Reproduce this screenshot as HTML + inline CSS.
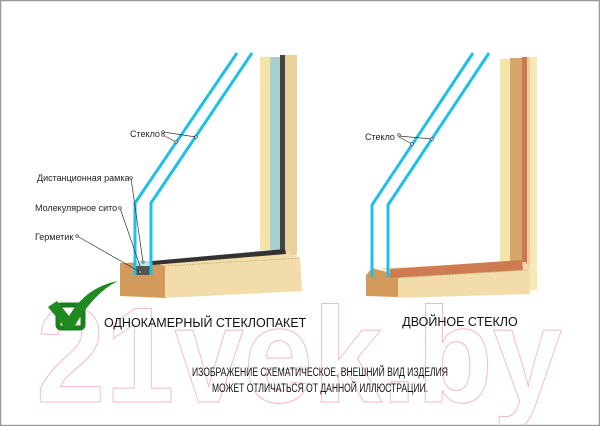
<!DOCTYPE html>
<html><head><meta charset="utf-8"><style>
html,body{margin:0;padding:0;background:#fff}
svg{display:block}
text{font-family:"Liberation Sans",sans-serif}
</style></head><body>
<svg width="600" height="426" viewBox="0 0 600 426" xmlns="http://www.w3.org/2000/svg">
<rect x="0.5" y="0.5" width="599" height="425" fill="#fff" stroke="#999" stroke-width="1.5"/>
<!-- watermark -->
<text x="36" y="402" font-size="136" font-weight="bold" fill="none" stroke="#f7b5ca" stroke-width="1" textLength="526" lengthAdjust="spacingAndGlyphs">21vek.by</text>

<!-- LEFT frame -->
<rect x="260" y="57" width="10" height="193" fill="#f3e4aa"/>
<rect x="270" y="57" width="10" height="193" fill="#a9d0cf"/>
<rect x="280" y="55" width="5" height="195" fill="#444"/>
<rect x="285" y="55" width="12" height="200" fill="#e9d19c"/>
<!-- left sill -->
<polygon points="120,263 152,262 165,266 165,298 120,296" fill="#d49a5c"/>
<polygon points="165,266 150,262 290,253 300,258 302,291 165,298" fill="#f1dcaa"/>
<polygon points="152,261 285,249 286,254 152,265" fill="#333"/>
<line x1="165" y1="266" x2="300" y2="258" stroke="#c9b583" stroke-width="0.8" stroke-dasharray="2,1"/>
<rect x="134" y="261" width="17" height="5" fill="#bfe3ec"/>
<rect x="134" y="266" width="17" height="9" fill="#555"/>
<!-- left glass -->
<polyline points="237,53 135,203 135,275" fill="none" stroke="#1ec0e8" stroke-width="3"/>
<polyline points="252,53 151,203 151,275" fill="none" stroke="#1ec0e8" stroke-width="3"/>
<!-- left labels -->
<text x="130" y="137" font-size="9" fill="#222">Стекло</text>
<g stroke="#333" stroke-width="0.7" fill="#fff">
<line x1="163" y1="132" x2="196" y2="137"/><line x1="163" y1="135" x2="176" y2="142"/>
<circle cx="163" cy="132" r="1.3"/><circle cx="163" cy="135" r="1.3"/>
<circle cx="196" cy="137" r="1.3"/><circle cx="176" cy="142" r="1.3"/>
<line x1="131" y1="178" x2="143" y2="262"/><circle cx="131" cy="178" r="1.3"/><circle cx="143" cy="262" r="1.2"/>
<line x1="120" y1="208" x2="140" y2="266"/><circle cx="120" cy="208" r="1.3"/>
<line x1="77" y1="236" x2="140" y2="272"/><circle cx="77" cy="236" r="1.3"/><circle cx="140" cy="272" r="1.2"/>
</g>
<text x="37" y="181" font-size="9" fill="#222">Дистанционная рамка</text>
<text x="35" y="211" font-size="9" fill="#222">Молекулярное сито</text>
<text x="35" y="240" font-size="9" fill="#222">Герметик</text>

<!-- checkmark -->
<rect x="58" y="305" width="25" height="23" rx="3" fill="none" stroke="#1b7d1b" stroke-width="5"/>
<path d="M48,307 L57,301 L69,316 Q86,287 118,281 Q93,293 73,329 L66,329 Z" fill="#1f8a1f"/>
<text x="104" y="327" font-size="12.5" fill="#111">ОДНОКАМЕРНЫЙ СТЕКЛОПАКЕТ</text>

<!-- RIGHT frame -->
<rect x="500" y="59" width="10" height="208" fill="#f3e4aa"/>
<rect x="510" y="58" width="12" height="209" fill="#d6a66a"/>
<rect x="522" y="57" width="5" height="214" fill="#c97a52"/>
<rect x="527" y="57" width="3" height="230" fill="#f5c99a"/>
<rect x="530" y="57" width="7" height="233" fill="#f5e9b5"/>
<!-- right sill -->
<polygon points="366,275 372,268 398,275 398,297 366,296" fill="#d49a5c"/>
<polygon points="398,275 380,268 525,262 530,267 530,294 398,298" fill="#f1dcaa"/>
<polygon points="390,269 522,260 523,270 390,278" fill="#cf7b52"/>
<line x1="398" y1="278" x2="528" y2="270" stroke="#c9b583" stroke-width="0.8" stroke-dasharray="2,1"/>
<!-- right glass -->
<polyline points="473,53 372,205 372,277" fill="none" stroke="#1ec0e8" stroke-width="3"/>
<polyline points="489,53 388,205 388,277" fill="none" stroke="#1ec0e8" stroke-width="3"/>
<text x="365" y="140" font-size="9" fill="#222">Стекло</text>
<g stroke="#333" stroke-width="0.7" fill="#fff">
<line x1="399" y1="136" x2="432" y2="139"/><line x1="399" y1="137" x2="412" y2="144"/>
<circle cx="399" cy="135" r="1.3"/><circle cx="432" cy="139" r="1.3"/><circle cx="412" cy="144" r="1.3"/>
</g>
<text x="460" y="326" font-size="12.5" fill="#111" text-anchor="middle">ДВОЙНОЕ СТЕКЛО</text>

<text x="320" y="376" font-size="11.5" fill="#111" text-anchor="middle" textLength="256" lengthAdjust="spacingAndGlyphs">ИЗОБРАЖЕНИЕ СХЕМАТИЧЕСКОЕ, ВНЕШНИЙ ВИД ИЗДЕЛИЯ</text>
<text x="320" y="392" font-size="11.5" fill="#111" text-anchor="middle" textLength="216" lengthAdjust="spacingAndGlyphs">МОЖЕТ ОТЛИЧАТЬСЯ ОТ ДАННОЙ ИЛЛЮСТРАЦИИ.</text>
</svg>
</body></html>
